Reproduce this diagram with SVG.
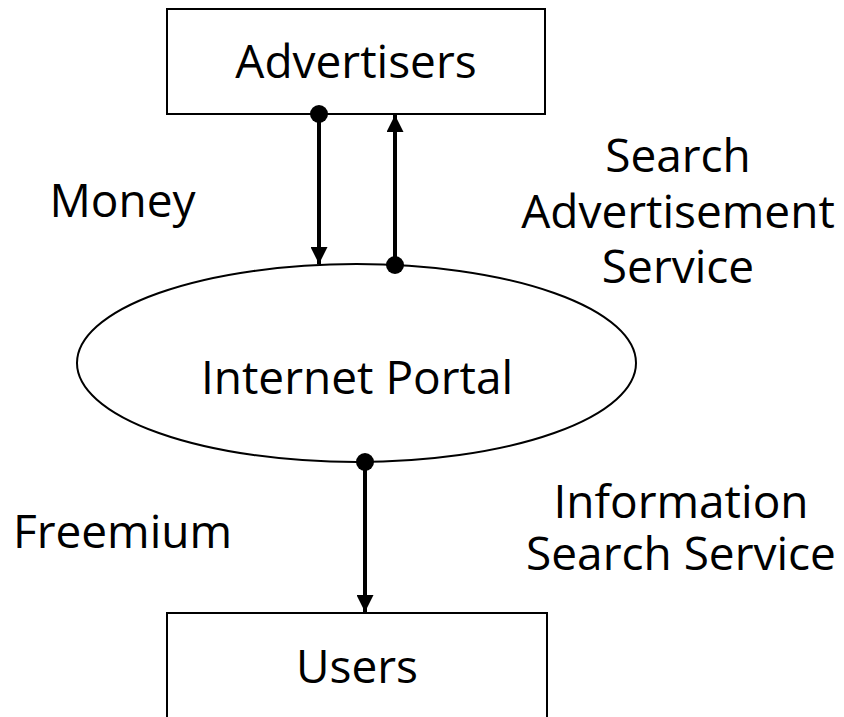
<svg xmlns="http://www.w3.org/2000/svg" width="844" height="717" viewBox="0 0 844 717">
  <style>
    .box { fill: #ffffff; stroke: #000000; stroke-width: 2; }
    .label { font-family: "Open Sans", "Noto Sans", "Liberation Sans", sans-serif; font-size: 46px; fill: #000000; text-anchor: middle; }
    .flow { stroke: #000000; stroke-width: 4; fill: none; }
    .dot { fill: #000000; }
  </style>
  <defs>
    <marker id="head" viewBox="0 0 17 17" refX="17" refY="8.5" markerWidth="17" markerHeight="17" markerUnits="userSpaceOnUse" orient="auto">
      <path d="M0,0 L17,8.5 L0,17 Z" fill="#000000"/>
    </marker>
  </defs>
  <rect width="844" height="717" fill="#ffffff"/>

  <g id="advertisers">
    <rect class="box" x="167" y="9" width="378" height="105"/>
    <text class="label" x="356" y="78">Advertisers</text>
  </g>

  <g id="portal">
    <ellipse class="box" cx="356.5" cy="363" rx="279.5" ry="99"/>
    <text class="label" x="357" y="394">Internet Portal</text>
  </g>

  <g id="users">
    <rect class="box" x="167" y="613" width="380" height="110"/>
    <text class="label" x="357" y="683">Users</text>
  </g>

  <g id="connectors">
    <!-- Money: advertisers to portal -->
    <line class="flow" x1="319" y1="114" x2="319" y2="264" marker-end="url(#head)"/>
    <circle class="dot" cx="319" cy="114" r="9"/>
    <!-- Search advertisement service: portal to advertisers -->
    <line class="flow" x1="395" y1="265" x2="395" y2="115" marker-end="url(#head)"/>
    <circle class="dot" cx="395" cy="265" r="9"/>
    <!-- Information search service: portal to users -->
    <line class="flow" x1="365" y1="462" x2="365" y2="612" marker-end="url(#head)"/>
    <circle class="dot" cx="365" cy="462" r="9"/>
  </g>

  <g id="labels">
    <text class="label" x="122.5" y="217">Money</text>
    <text class="label" x="678" y="172">Search<tspan x="678" dy="56">Advertisement</tspan><tspan x="678" dy="55">Service</tspan></text>
    <text class="label" x="122.5" y="548">Freemium</text>
    <text class="label" x="681" y="518">Information<tspan x="681" dy="52">Search Service</tspan></text>
  </g>
</svg>
